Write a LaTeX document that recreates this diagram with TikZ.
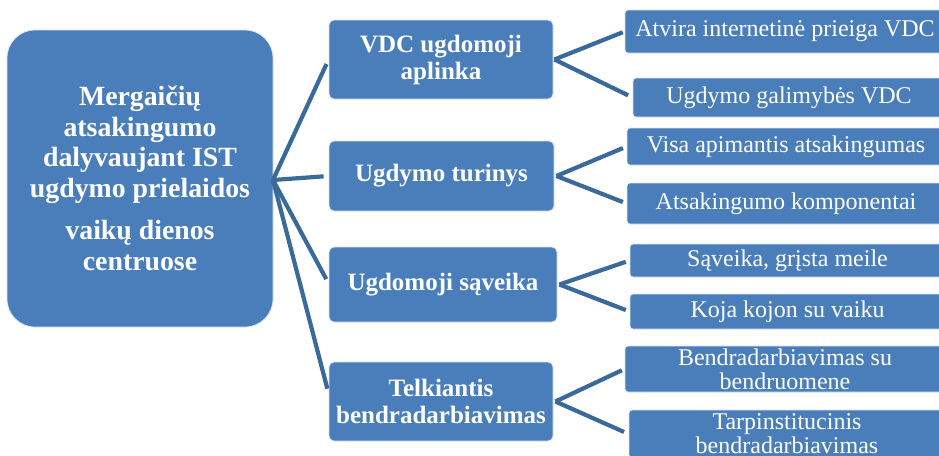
\documentclass[tikz,border=0pt]{standalone}
\usepackage{fontspec}
\setmainfont{Liberation Serif}
\definecolor{boxblue}{HTML}{4A7EBB}
\definecolor{linkblue}{HTML}{3A6A9A}
\tikzset{
  base/.style={rectangle, fill=boxblue, draw=white!80!boxblue, line width=0.8pt, text=white, align=center, inner sep=0pt},
  mainbox/.style={base, rounded corners=28pt, font=\bfseries\fontsize{27.8}{30.5}\selectfont},
  midbox/.style={base, rounded corners=5pt, font=\bfseries\fontsize{25}{27}\selectfont},
  leafbox/.style={base, rounded corners=3pt, font=\fontsize{24}{24}\selectfont},
  conn/.style={draw=linkblue, line width=4.2pt}
}
\begin{document}
\begin{tikzpicture}[x=1pt,y=-1pt]
\useasboundingbox (0,0) rectangle (939,455);
\clip (0,0) rectangle (939,455);
\fill[white] (0,0) rectangle (939,455);
% main box
\node[mainbox, minimum width=266pt, minimum height=297pt] (main) at (140,178.5)
  {Mergaičių\\atsakingumo\\dalyvaujant IST\\ugdymo prielaidos\\[12pt]vaikų dienos\\centruose};
% middle boxes
\node[midbox, minimum width=224pt, minimum height=79pt] (m1) at (441,59.5) {VDC ugdomoji\\aplinka};
\node[midbox, minimum width=225pt, minimum height=70pt] (m2) at (441.5,176) {Ugdymo turinys};
\node[midbox, minimum width=228pt, minimum height=75pt] (m3) at (443,284.5) {Ugdomoji sąveika};
\node[midbox, minimum width=224pt, minimum height=79pt] (m4) at (441,401.5) {Telkiantis\\bendradarbiavimas};
% leaf boxes
\node[leafbox, minimum width=320pt, minimum height=43pt] (r1) at (785,31.5) {Atvira internetinė prieiga VDC};
\node[leafbox, minimum width=312pt, minimum height=39pt] (r2) at (789,97.5) {Ugdymo galimybės VDC};
\node[leafbox, minimum width=318pt, minimum height=37pt] (r3) at (786,146.5) {Visa apimantis atsakingumas};
\node[leafbox, minimum width=318pt, minimum height=41pt] (r4) at (786,203.5) {Atsakingumo komponentai};
\node[leafbox, minimum width=315pt, minimum height=33pt] (r5) at (787.5,260.5) {Sąveika, grįsta meile};
\node[leafbox, minimum width=315pt, minimum height=35pt] (r6) at (787.5,311.5) {Koja kojon su vaiku};
\node[leafbox, minimum width=320pt, minimum height=46pt] (r7) at (785,369) {Bendradarbiavimas su\\bendruomene};
\node[leafbox, minimum width=316pt, minimum height=48pt] (r8) at (787,434) {Tarpinstitucinis\\bendradarbiavimas};
% hubs
\coordinate (h0) at (273,180);
\coordinate (h1) at ([xshift=1pt]m1.east);
\coordinate (h2) at ([xshift=2pt]m2.east);
\coordinate (h3) at ([xshift=2pt]m3.east);
\coordinate (h4) at ([xshift=2pt]m4.east);
% connectors
\draw[conn, shorten >=5pt] (h0) -- (m1.west);
\draw[conn, shorten >=5pt] (h0) -- (m2.west);
\draw[conn, shorten >=5pt] (h0) -- ([yshift=1pt]m3.west);
\draw[conn, shorten >=5pt] (h0) -- ([yshift=8pt]m4.west);
\draw[conn, shorten >=2pt] (h1) -- (r1.west);
\draw[conn, shorten >=5pt] (h1) -- (r2.west);
\draw[conn, shorten >=4pt] (h2) -- (r3.west);
\draw[conn, shorten >=4pt] (h2) -- (r4.west);
\draw[conn, shorten >=4pt] (h3) -- (r5.west);
\draw[conn, shorten >=4pt] (h3) -- (r6.west);
\draw[conn, shorten >=3pt] (h4) -- (r7.west);
\draw[conn, shorten >=5pt] (h4) -- (r8.west);
\end{tikzpicture}
\end{document}
